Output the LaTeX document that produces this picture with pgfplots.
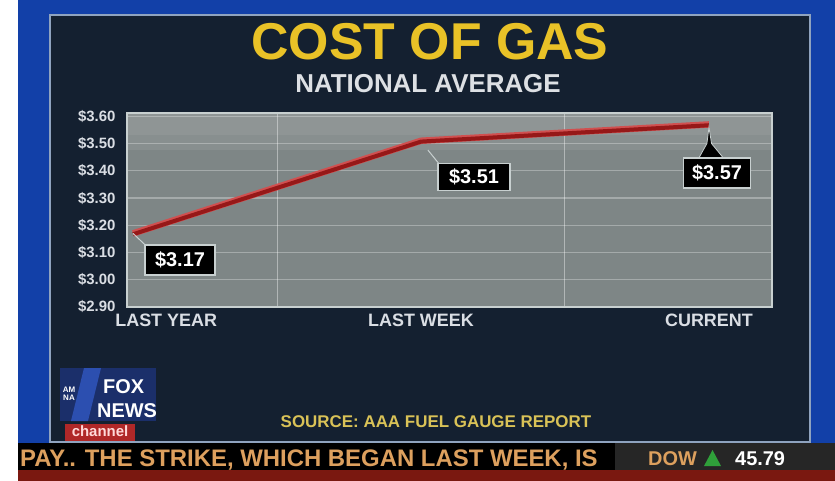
\documentclass[border=0pt]{standalone}
\usepackage{pgfplots}
\pgfplotsset{compat=1.18}
\usepackage{fontspec}
\setmainfont{Liberation Sans}

\definecolor{bgblue}{HTML}{1240A8}
\definecolor{panel}{HTML}{142030}
\definecolor{framec}{HTML}{8FA3BF}
\definecolor{titley}{HTML}{E9C227}
\definecolor{subg}{HTML}{DDE0E4}
\definecolor{tickc}{HTML}{DADEE4}
\definecolor{gridc}{HTML}{C8D0D0}
\definecolor{plotbg}{HTML}{7E8686}
\definecolor{lineD}{HTML}{961818}
\definecolor{lineL}{HTML}{D05050}
\definecolor{srcy}{HTML}{D9C257}
\definecolor{tickertxt}{HTML}{DDA05E}
\definecolor{dowbg}{HTML}{262626}
\definecolor{redband}{HTML}{7A1810}
\definecolor{foxblue}{HTML}{2C4FB0}
\definecolor{foxred}{HTML}{B02828}
\definecolor{upgreen}{HTML}{2FA03A}

\tikzset{lbl/.style={fill=black, draw=gridc, line width=1.5bp, text=white,
    font={\fontsize{20}{20}\selectfont\bfseries}, minimum width=70bp, minimum height=30bp, inner sep=2bp}}

\begin{document}
\begin{tikzpicture}[x=1bp,y=-1bp]
\useasboundingbox (0,0) rectangle (835,481);
\fill[white] (0,0) rectangle (835,481);
\fill[bgblue] (18,0) rectangle (835,445);
\fill[panel] (50,15) rectangle (810,442);
\draw[framec,line width=2.5bp] (50,15) rectangle (810,442);
% plot-area background
\fill[plotbg] (127,113) rectangle (772,307);
\fill[white, opacity=0.08] (127,113) rectangle (772,150);
\fill[white, opacity=0.06] (127,113) rectangle (772,135);
% ticker
\fill[black] (18,443) rectangle (615,470);
\fill[dowbg] (615,443) rectangle (835,470);
\fill[redband] (18,470) rectangle (835,481);

\begin{axis}[
  at={(127bp,-307bp)}, anchor=south west, scale only axis,
  width=645bp, height=194bp,
  xmin=-0.021, xmax=2.219, ymin=2.9, ymax=3.612,
  axis line style={draw=gridc, line width=1.5bp},
  xtick={0.115,1,2}, xticklabels={LAST YEAR, LAST WEEK, CURRENT},
  minor xtick={0.5,1.5}, xminorgrids,
  minor x grid style={white, opacity=0.4, line width=1bp},
  ytick={2.9,3,3.1,3.2,3.3,3.4,3.5,3.6},
  yticklabels={\$2.90,\$3.00,\$3.10,\$3.20,\$3.30,\$3.40,\$3.50,\$3.60},
  ymajorgrids, major y grid style={white, opacity=0.3, line width=1.2bp},
  major tick length=0pt, minor tick length=0pt,
  xticklabel style={text=tickc, font={\fontsize{18}{18}\selectfont\bfseries}, yshift=-3bp},
  yticklabel style={text=tickc, font={\fontsize{15}{15}\selectfont\bfseries}, xshift=-8bp},
  clip=false,
]
\addplot[lineL, line width=6.5bp, line join=round] coordinates {(0,3.17)(1,3.51)(2,3.57)};
\addplot[lineD, line width=4bp, line join=round, yshift=-0.8bp] coordinates {(0,3.17)(1,3.51)(2,3.57)};

\draw[gridc, line width=1bp] (axis cs:0,3.17) -- (axis cs:0.042,3.128);
\node[lbl] at (axis cs:0.163,3.072) {\$3.17};

\draw[gridc, line width=1bp] (axis cs:1.024,3.476) -- (axis cs:1.066,3.421);
\node[lbl, minimum width=72bp, minimum height=27bp] at (axis cs:1.184,3.377) {\$3.51};

\filldraw[fill=black, draw=gridc, line width=0.8bp] (axis cs:2,3.56) -- (axis cs:1.993,3.50) -- (axis cs:1.965,3.447) -- (axis cs:2.05,3.447) -- (axis cs:2.009,3.50) -- cycle;
\node[lbl, minimum width=67bp] at (axis cs:2.028,3.392) {\$3.57};
\end{axis}

% titles
\node[text=titley, font={\fontsize{52}{52}\selectfont\bfseries}] at (430,42) {COST OF GAS};
\node[text=subg, font={\fontsize{26}{26}\selectfont\bfseries}] at (428,84) {NATIONAL AVERAGE};
\node[text=srcy, font={\fontsize{17}{17}\selectfont\bfseries}] at (436,422) {SOURCE: AAA FUEL GAUGE REPORT};

% logo
\fill[foxblue!60!black] (60,368) rectangle (156,421);
\fill[foxblue] (84,368) -- (101,368) -- (88,421) -- (71,421) -- cycle;
\node[text=white, font={\fontsize{8}{8}\selectfont\bfseries}, align=center, inner sep=0] at (69,394) {AM\\NA};
\node[text=white, font={\fontsize{20}{20}\selectfont\bfseries}, anchor=base west, inner sep=0] at (103,393) {FOX};
\node[text=white, font={\fontsize{20}{20}\selectfont\bfseries}, anchor=base west, inner sep=0] at (97,417) {NEWS};
\fill[foxred] (65,424) rectangle (135,441);
\node[text=pink!60!white, font={\fontsize{15}{15}\selectfont\bfseries}] at (100,431) {channel};

% ticker text
\node[anchor=base west, text=tickertxt, font={\fontsize{24}{24}\selectfont\bfseries}, inner sep=0] at (20,466) {PAY.. THE STRIKE, WHICH BEGAN LAST WEEK, IS};
\node[anchor=base west, text=tickertxt, font={\fontsize{20}{20}\selectfont\bfseries}, inner sep=0] at (648,465) {DOW};
\fill[upgreen] (704,466) -- (721,466) -- (712.5,450) -- cycle;
\node[anchor=base west, text=white, font={\fontsize{20}{20}\selectfont\bfseries}, inner sep=0] at (735,465) {45.79};
\end{tikzpicture}
\end{document}
